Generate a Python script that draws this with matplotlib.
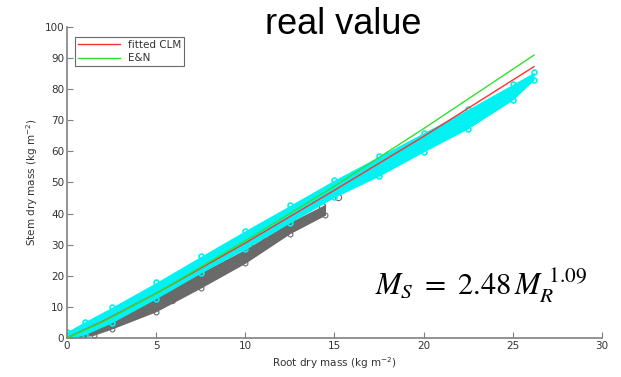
import matplotlib.pyplot as plt
import numpy as np

# Root vs stem dry mass (kg m^-2)
# cyan cloud: upper / lower edge of the dense point band
cyan_x = [0.0, 1.0, 2.5, 5.0, 7.5, 10.0, 12.5, 15.0, 17.5, 20.0, 22.5, 25.0, 26.2]
cyan_lo = [-0.5, 1.0, 4.8, 12.6, 20.8, 28.6, 37.0, 45.2, 52.0, 59.8, 67.3, 76.5, 83.0]
cyan_hi = [2.0, 5.2, 9.8, 17.8, 26.2, 34.5, 42.6, 50.8, 58.4, 66.0, 73.6, 81.6, 85.5]

# grey cloud (second data set), edges of the band
grey_x = [0.6, 1.5, 2.5, 5.0, 7.5, 10.0, 12.5, 14.5]
grey_lo = [0.0, 0.8, 2.8, 8.4, 16.0, 24.0, 33.5, 39.5]
grey_hi = [0.6, 3.0, 6.2, 13.0, 21.0, 28.5, 37.2, 43.0]

# isolated grey circles
grey_out_x = [5.8, 5.9, 6.6, 10.3, 11.1, 12.7, 14.3, 15.2]
grey_out_y = [12.8, 12.3, 16.0, 29.0, 31.2, 37.4, 42.3, 45.4]

# fitted curves sampled at a few root masses
fit_x = [0.0, 2.0, 5.0, 10.0, 15.0, 20.0, 26.2]
clm_y = [0.0, 5.3, 14.3, 30.5, 47.5, 64.8, 87.3]
en_y = [0.0, 5.1, 14.3, 31.2, 48.8, 67.3, 91.0]

fig = plt.figure(figsize=(6.21, 3.77), dpi=100)
ax = fig.add_axes([0.108, 0.104, 0.861, 0.824])

cyan = "#00f2f2"
grey = "#6a6a6a"

ax.fill_between(grey_x, grey_lo, grey_hi, color=grey, lw=0, zorder=1)
ax.plot(grey_x, grey_lo, "o", mfc="none", mec=grey, ms=3.5, mew=0.8, zorder=1)
ax.plot(grey_out_x, grey_out_y, "o", mfc="none", mec=grey, ms=4.5, mew=0.8, zorder=1)

ax.fill_between(cyan_x, cyan_lo, cyan_hi, color=cyan, lw=0, zorder=2)
ax.plot(cyan_x, cyan_lo, "o", mfc="none", mec=cyan, ms=3.5, mew=1.2, zorder=2)
ax.plot(cyan_x, cyan_hi, "o", mfc="none", mec=cyan, ms=3.5, mew=1.2, zorder=2)

ax.plot(fit_x, clm_y, color="#ff3030", lw=1.0, label="fitted CLM", zorder=3)
ax.plot(fit_x, en_y, color="#30e030", lw=1.0, label="E&N", zorder=3)

ax.set_xlim(0, 30)
ax.set_ylim(0, 100)
ax.set_xticks(np.arange(0, 31, 5))
ax.set_yticks(np.arange(0, 101, 10))

for s in ["top", "right"]:
    ax.spines[s].set_visible(False)
for s in ["left", "bottom"]:
    ax.spines[s].set_color("#808080")
    ax.spines[s].set_linewidth(1.2)
ax.tick_params(direction="in", length=4, color="#808080", labelsize=7.5,
               labelcolor="#333333", pad=2)

ax.set_xlabel("Root dry mass (kg m$^{-2}$)", fontsize=7.5, color="#333333", labelpad=3)
ax.set_ylabel("Stem dry mass (kg m$^{-2}$)", fontsize=7.5, color="#333333", labelpad=3)

leg = ax.legend(loc="upper left", fontsize=7.5, frameon=True, fancybox=False,
                handlelength=4, borderpad=0.3, labelspacing=0.3,
                bbox_to_anchor=(0.005, 0.985))
leg.get_frame().set_edgecolor("#444444")
leg.get_frame().set_linewidth(0.8)
for t in leg.get_texts():
    t.set_color("#333333")

fig.text(0.553, 0.91, "real value", fontsize=26, family="Liberation Sans",
         ha="center", va="baseline")
ax.text(0.575, 0.14, r"$M_S\ =\ 2.48\,M_R^{\ 1.09}$", transform=ax.transAxes,
        fontsize=22, math_fontfamily="stix")

fig.savefig("out.png", dpi=100)
